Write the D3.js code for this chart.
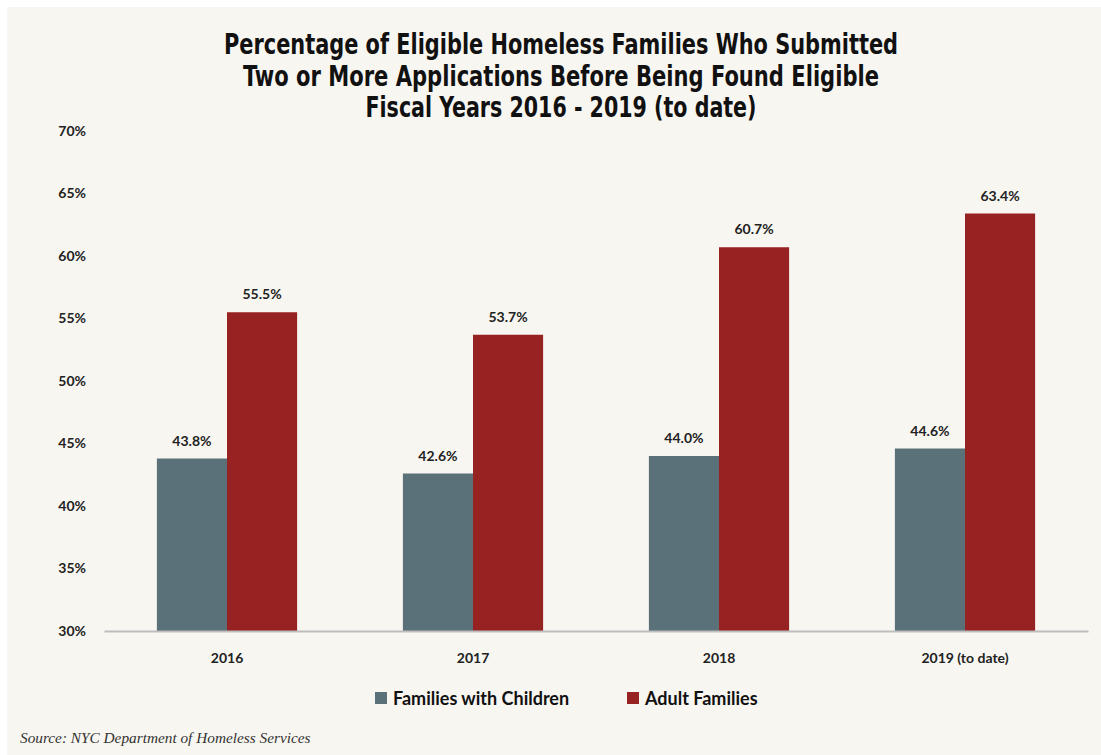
<!DOCTYPE html>
<html><head><meta charset="utf-8">
<script src="https://cdn.jsdelivr.net/npm/d3@7"></script>
<style>body{margin:0;background:#fff}svg{display:block}</style>
</head><body>
<svg id="c" width="1101" height="755"></svg>
<script>
const categories = ["2016", "2017", "2018", "2019 (to date)"];
const seriesNames = ["Families with Children", "Adult Families"];
const familiesWithChildren = [43.8, 42.6, 44.0, 44.6];
const adultFamilies = [55.5, 53.7, 60.7, 63.4];
const yTicks = [30, 35, 40, 45, 50, 55, 60, 65, 70];
const titleLines = ["Percentage of Eligible Homeless Families Who Submitted",
  "Two or More Applications Before Being Found Eligible",
  "Fiscal Years 2016 - 2019 (to date)"];
const sourceText = "Source: NYC Department of Homeless Services";

const colors = ["#5b7179", "#972222"];
const svg = d3.select("#c");
svg.append("rect").attr("x", 7).attr("y", 7).attr("width", 1094).attr("height", 748).attr("fill", "#f8f6f1");

const titleFont = "'Liberation Sans Narrow','DejaVu Sans Condensed','Arial Narrow',sans-serif";
const bodyFont = "Lato,'Open Sans',sans-serif";
const titleWidths = [674, 636, 391];
titleLines.forEach((t, i) => {
  svg.append("text").attr("x", 561).attr("y", 54 + i * 31.5)
    .attr("text-anchor", "middle").attr("font-family", titleFont)
    .attr("font-weight", "bold").attr("font-size", 28).attr("fill", "#111")
    .attr("textLength", titleWidths[i]).attr("lengthAdjust", "spacingAndGlyphs")
    .text(t);
});

const x0 = d3.scaleBand().domain(categories).range([104, 1088]).paddingInner(0.43).paddingOuter(0.215);
const x1 = d3.scaleBand().domain(seriesNames).range([0, x0.bandwidth()]);
const y = d3.scaleLinear().domain([30, 70]).range([631, 131]);

// y tick labels
const yAxis = d3.axisLeft(y).tickValues(yTicks).tickFormat(d => d + "%").tickSize(0).tickPadding(0);
const ga = svg.append("g").attr("transform", "translate(86,0)").call(yAxis);
ga.select(".domain").remove();
ga.selectAll("text").attr("font-family", bodyFont).attr("font-weight", "bold")
  .attr("font-size", 14).attr("fill", "#222");

const data = categories.map((c, i) => ({cat: c, vals: [familiesWithChildren[i], adultFamilies[i]]}));
const g = svg.append("g");
data.forEach(d => {
  d.vals.forEach((v, j) => {
    const bx = x0(d.cat) + x1(seriesNames[j]);
    g.append("rect").attr("x", bx).attr("y", y(v)).attr("width", x1.bandwidth())
      .attr("height", y(30) - y(v)).attr("fill", colors[j]);
    g.append("text").attr("x", bx + x1.bandwidth() / 2).attr("y", y(v) - 13)
      .attr("text-anchor", "middle").attr("font-family", bodyFont).attr("font-weight", "bold")
      .attr("font-size", 14).attr("fill", "#222").text(v.toFixed(1) + "%");
  });
});

// x axis
const xAxis = d3.axisBottom(x0).tickSize(0).tickPadding(22);
const gx = svg.append("g").attr("transform", "translate(0,631)").call(xAxis);
gx.select(".domain").attr("stroke", "#bdbdbd").attr("stroke-width", 2);
gx.selectAll("text").attr("font-family", bodyFont).attr("font-weight", "bold")
  .attr("font-size", 14).attr("fill", "#222");

// legend
const legendX = [375, 627];
seriesNames.forEach((s, i) => {
  svg.append("rect").attr("x", legendX[i]).attr("y", 692).attr("width", 12).attr("height", 12).attr("fill", colors[i]);
  svg.append("text").attr("x", legendX[i] + 18).attr("y", 704.5).attr("font-family", bodyFont)
    .attr("font-weight", "bold").attr("font-size", 18).attr("fill", "#111").text(s);
});

svg.append("text").attr("x", 20).attr("y", 743).attr("font-family", "'Liberation Serif','DejaVu Serif',serif")
  .attr("font-style", "italic").attr("font-size", 15.3).attr("fill", "#333").text(sourceText);
</script>
</body></html>
